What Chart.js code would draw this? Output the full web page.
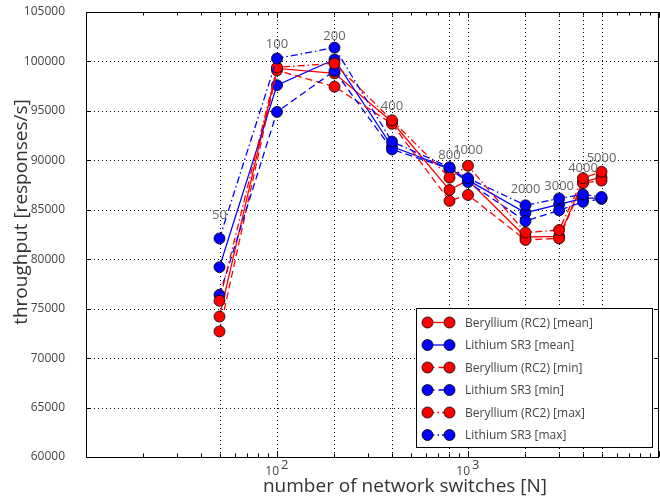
<!DOCTYPE html>
<html><head><meta charset="utf-8">
<script src="https://cdn.jsdelivr.net/npm/chart.js@4.4.1/dist/chart.umd.min.js"></script>
<style>html,body{margin:0;padding:0;background:#fff}</style>
</head><body>
<canvas id="c" width="660" height="499"></canvas>
<script>
// ---- data ----
const switches = [50, 100, 200, 400, 800, 1000, 2000, 3000, 4000, 5000];
const berylliumMean = [74200, 99300, 98800, 93900, 87000, 88000, 82250, 82300, 87800, 88300];
const lithiumMean   = [79200, 97600, 100200, 91400, 89200, 88000, 84700, 85550, 86150, 86200];
const berylliumMin  = [72700, 99100, 97450, 93700, 85900, 86500, 81950, 82100, 87700, 87950];
const lithiumMin    = [76400, 94900, 99050, 91100, 89150, 87800, 83850, 84950, 85800, 86100];
const berylliumMax  = [75800, 99400, 99800, 94050, 88250, 89450, 82700, 82950, 88200, 88850];
const lithiumMax    = [82100, 100300, 101400, 91900, 89300, 88200, 85450, 86150, 86550, 86300];
const pointLabels   = ['50', '100', '200', '400', '800', '1000', '2000', '3000', '4000', '5000'];
const pointLabelY   = [84400, 101750, 102560, 95490, 90530, 91040, 87090, 87400, 89190, 90200];
const yTickValues   = [60000, 65000, 70000, 75000, 80000, 85000, 90000, 95000, 100000, 105000];
const xDecades      = [10, 100, 1000, 10000];
const xDecadeLabels = [['10', '2'], ['10', '3']];
const xDecadeLabelAt = [100, 1000];
const seriesNames = ['Beryllium (RC2) [mean]', 'Lithium SR3 [mean]', 'Beryllium (RC2) [min]', 'Lithium SR3 [min]', 'Beryllium (RC2) [max]', 'Lithium SR3 [max]'];

const RED = '#ff0000', BLUE = '#0000ff';
const SOLID = [], DASH = [7, 4], DASHDOT = [7, 3, 1.5, 3];
const FONT = "'Open Sans', 'DejaVu Sans', sans-serif";

function ds(i, vals, color, dash) {
  return {
    label: seriesNames[i],
    data: switches.map((x, k) => ({x: x, y: vals[k]})),
    borderColor: color,
    backgroundColor: color,
    borderWidth: 1.3,
    borderDash: dash,
    pointRadius: 5.5,
    pointHoverRadius: 5.5,
    pointBackgroundColor: color,
    pointBorderColor: '#000',
    pointBorderWidth: 0.8,
    tension: 0,
    fill: false,
    clip: false,
    order: 6 - i
  };
}

const datasets = [
  ds(0, berylliumMean, RED, SOLID),
  ds(1, lithiumMean, BLUE, SOLID),
  ds(2, berylliumMin, RED, DASH),
  ds(3, lithiumMin, BLUE, DASH),
  ds(4, berylliumMax, RED, DASHDOT),
  ds(5, lithiumMax, BLUE, DASHDOT)
];

const decor = {
  id: 'decor',
  beforeDatasetsDraw(chart) {
    const {ctx, chartArea: a, scales: {x, y}} = chart;
    ctx.save();
    ctx.strokeStyle = '#000';
    ctx.lineWidth = 1;
    // dotted grid
    ctx.setLineDash([1, 3]);
    yTickValues.forEach(v => {
      if (v <= y.min || v >= y.max) return;
      const py = Math.round(y.getPixelForValue(v)) + 0.5;
      ctx.beginPath(); ctx.moveTo(a.left, py); ctx.lineTo(a.right, py); ctx.stroke();
    });
    switches.forEach(v => {
      const px = Math.round(x.getPixelForValue(v)) + 0.5;
      ctx.beginPath(); ctx.moveTo(px, a.top); ctx.lineTo(px, a.bottom); ctx.stroke();
    });
    ctx.setLineDash([]);
    // y ticks (inward, both sides)
    yTickValues.forEach(v => {
      const py = Math.round(y.getPixelForValue(v)) + 0.5;
      ctx.beginPath();
      ctx.moveTo(a.left, py); ctx.lineTo(a.left + 5, py);
      ctx.moveTo(a.right, py); ctx.lineTo(a.right - 5, py);
      ctx.stroke();
    });
    // x log ticks (inward, bottom and top)
    for (let d = 0; d < xDecades.length - 1; d++) {
      for (let m = 1; m <= 10; m++) {
        const v = xDecades[d] * m;
        const px = Math.round(x.getPixelForValue(v)) + 0.5;
        const len = (m === 1 || m === 10) ? 6 : 3.5;
        ctx.beginPath();
        ctx.moveTo(px, a.bottom); ctx.lineTo(px, a.bottom - len);
        ctx.moveTo(px, a.top); ctx.lineTo(px, a.top + len);
        ctx.stroke();
      }
    }
    ctx.restore();
  },
  afterDatasetsDraw(chart) {
    const {ctx, chartArea: a, scales: {x, y}} = chart;
    ctx.save();
    // point labels
    ctx.fillStyle = '#666';
    ctx.font = '13px ' + FONT;
    ctx.textAlign = 'center';
    ctx.textBaseline = 'middle';
    pointLabels.forEach((t, i) => {
      ctx.fillText(t, x.getPixelForValue(switches[i]), y.getPixelForValue(pointLabelY[i]));
    });
    // box
    ctx.strokeStyle = '#000';
    ctx.lineWidth = 1;
    ctx.strokeRect(Math.round(a.left) + 0.5, Math.round(a.top) + 0.5, Math.round(a.right - a.left) - 1, Math.round(a.bottom - a.top));
    // x decade labels
    ctx.fillStyle = '#444';
    xDecadeLabelAt.forEach((v, i) => {
      const px = x.getPixelForValue(v);
      ctx.font = '12px ' + FONT;
      ctx.textAlign = 'right';
      ctx.textBaseline = 'middle';
      ctx.fillText(xDecadeLabels[i][0], px + 2, a.bottom + 15);
      ctx.font = '13px ' + FONT;
      ctx.textAlign = 'left';
      ctx.fillText(xDecadeLabels[i][1], px + 4, a.bottom + 8);
    });
    // axis titles
    ctx.fillStyle = '#333';
    ctx.font = '19px ' + FONT;
    ctx.textAlign = 'center';
    ctx.textBaseline = 'middle';
    ctx.fillText('number of network switches [N]', 405, a.bottom + 30);
    ctx.save();
    ctx.translate(22, 212);
    ctx.rotate(-Math.PI / 2);
    ctx.fillText('throughput [responses/s]', 0, 0);
    ctx.restore();
    // legend
    const L = {left: 416.5, top: 308.5, w: 236, h: 139};
    ctx.fillStyle = '#fff';
    ctx.fillRect(L.left, L.top, L.w, L.h);
    ctx.strokeStyle = '#000';
    ctx.lineWidth = 1;
    ctx.strokeRect(L.left, L.top, L.w, L.h);
    chart.data.datasets.forEach((d, i) => {
      const cy = 322.5 + i * 22.5;
      const x1 = 427.5, x2 = 449.5;
      ctx.strokeStyle = d.borderColor;
      ctx.lineWidth = d.borderWidth;
      ctx.setLineDash(d.borderDash);
      ctx.beginPath(); ctx.moveTo(x1, cy); ctx.lineTo(x2, cy); ctx.stroke();
      ctx.setLineDash([]);
      [x1, x2].forEach(px => {
        ctx.beginPath(); ctx.arc(px, cy, 5.5, 0, Math.PI * 2);
        ctx.fillStyle = d.backgroundColor; ctx.fill();
        ctx.strokeStyle = '#000'; ctx.lineWidth = 0.8; ctx.stroke();
      });
      ctx.fillStyle = '#444';
      ctx.font = '12px ' + FONT;
      ctx.textAlign = 'left';
      ctx.textBaseline = 'middle';
      ctx.fillText(d.label, 465, cy + 1);
    });
    ctx.restore();
  }
};

new Chart(document.getElementById('c'), {
  type: 'line',
  data: {datasets: datasets},
  options: {
    responsive: false,
    animation: false,
    devicePixelRatio: 1,
    layout: {autoPadding: false, padding: {left: 0, right: 1, top: 12, bottom: 42}},
    plugins: {legend: {display: false}, tooltip: {enabled: false}},
    events: [],
    scales: {
      x: {
        type: 'logarithmic', min: 10, max: 10000,
        display: false
      },
      y: {
        type: 'linear', min: 60000, max: 105000,
        grid: {display: false}, border: {display: false},
        ticks: {stepSize: 5000, color: '#444', font: {size: 12, family: FONT}, padding: 13,
                callback: v => String(v)},
        afterBuildTicks(s) { s.ticks = yTickValues.map(v => ({value: v})); },
        afterFit(s) { s.width = 86; s.paddingTop = 0; s.paddingBottom = 0; }
      }
    }
  },
  plugins: [decor]
});
</script>
</body></html>
